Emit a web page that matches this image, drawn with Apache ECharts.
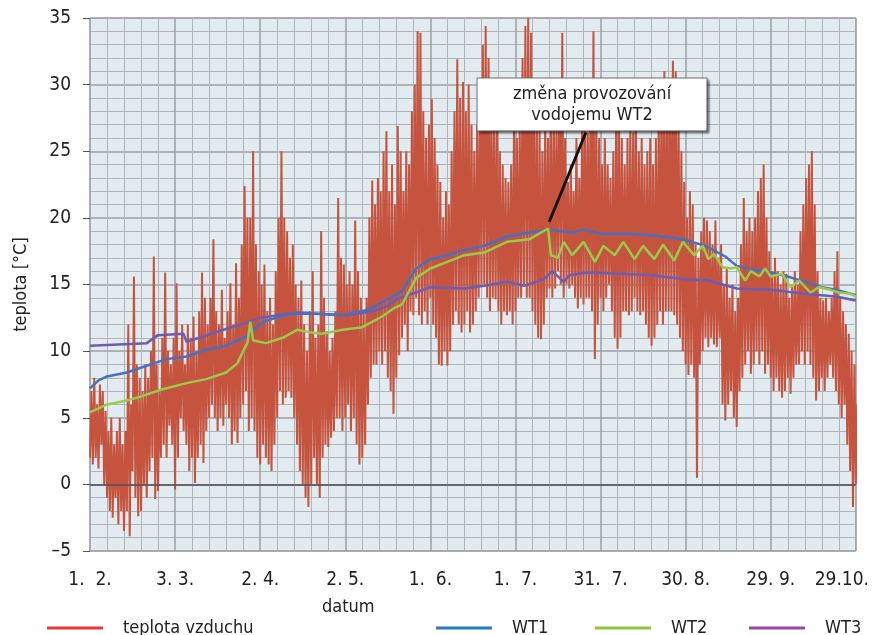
<!DOCTYPE html>
<html>
<head>
<meta charset="utf-8">
<script src="https://cdn.jsdelivr.net/npm/echarts@6/dist/echarts.min.js"></script>
<style>
  html, body { margin: 0; padding: 0; background: #fff; }
  #chart { width: 872px; height: 635px; }
</style>
</head>
<body>
<div id="chart"></div>
<script>
var FONT = "'Liberation Sans Narrow', 'DejaVu Sans Condensed', 'Liberation Sans', sans-serif";

// x osa: dny od 1. 2.
var xLabels = ['1.  2.', '3. 3.', '2. 4.', '2. 5.', '1.  6.', '1.  7.', '31.  7.', '30. 8.', '29. 9.', '29.10.'];

// teplota vzduchu - denni maxima a minima (den 0 .. 270)
var airMax = [
  7, 8, 6, 7.5, 7, 5.5, 4, 5, 3, 4,
  5, 3, 4, 12, 6, 15.6, 9, 8, 7, 9,
  8, 10, 17.1, 9, 7, 11, 15.9, 10, 9, 11,
  15.1, 10, 12, 9, 12, 11, 12.6, 10, 13, 15.9,
  14, 12, 14, 18.4, 13, 12, 14.6, 11, 13, 15.1,
  12, 16.6, 14, 18, 22.4, 20, 20, 25, 18, 16,
  15, 16.5, 13, 14, 12, 16, 20, 25, 20, 19,
  17, 18, 15, 14, 15.3, 12, 10, 13, 16, 11,
  12, 19, 14, 11.5, 10, 11, 13, 21.5, 17, 16.5,
  15, 16, 15, 19.8, 16, 14, 13, 14, 20, 22.8,
  21, 23, 22, 25, 26.5, 22, 24, 21, 26.9, 25,
  22, 25, 24, 28, 30, 34, 33.9, 28, 26, 27,
  28.9, 26, 24, 22.7, 20, 22, 21, 25, 28, 31.9,
  29, 30.2, 28, 30, 27, 25, 27, 30, 33, 34.4,
  32, 29, 28, 27.7, 25, 24, 23, 22.7, 24, 27.7,
  26, 27, 32, 34.4, 35, 33.9, 30, 28, 27, 25,
  28, 26, 27, 29, 27, 30, 33.9, 26, 22.7, 24,
  22, 26, 23, 27, 29, 26.4, 30, 34, 28, 26,
  24, 26, 24, 23, 25, 27.7, 28, 26, 24, 26,
  27, 26.4, 27, 25, 26, 24, 25, 26, 24, 26,
  28, 30, 31, 29, 30, 31.8, 31, 28, 25, 22.7,
  20, 22, 21, 18, 17, 19, 20, 19.8, 19, 18,
  19.8, 17, 18, 15, 16.3, 14, 15, 13, 14, 18,
  21.5, 19, 20, 19, 20, 22, 23, 24, 20, 17.5,
  16, 17, 16, 15, 16, 15.8, 14, 15, 16, 15,
  19, 21, 23, 24, 25, 21, 16, 14, 13.8, 14,
  13, 14, 16, 17.5, 14, 13, 12, 11.3, 10, 9, 6
];
var airMin = [
  2, 1.5, 2, 1.2, 3, 0, -1, -2, -2.5, -1,
  -3, -2, -3.5, -2, -3.9, 1, -1, -2.4, -2, 0,
  -1, 1, 2, -1.1, -0.5, 2, 3, 2, 4.4, 3,
  -0.4, 2, 5, 4, 3, 1, 2, 0.1, 2, 3,
  1.6, 4, 5, 6, 5, 4, 5, 4.4, 6, 5,
  3, 4, 3.1, 5, 6, 7, 4, 5, 4, 2,
  1.5, 3, 2, 1.5, 1, 3, 5, 7, 6, 6.5,
  7, 6.5, 5, 3, 1, 0, -1, -1.7, 0, 2,
  0, -1, 2, 3, 2.8, 3.5, 4, 5, 5, 4,
  5, 6, 4, 5, 3, 1.5, 2, 3, 6, 8,
  9, 9, 10, 9, 10, 8, 7, 5.3, 8, 9.7,
  11, 12, 10, 13, 12.7, 14, 12.7, 12, 13, 12,
  14, 12, 11, 9, 8.9, 10, 8.9, 10, 12, 13,
  12, 11.4, 12, 13, 11.4, 12, 13, 14, 15, 15,
  14, 13, 14, 13.9, 13, 12, 13, 12.7, 13, 12,
  13, 14, 14, 15, 14, 14, 13, 12, 11, 10.9,
  12, 14, 14.7, 14, 14.7, 16, 15, 14, 15, 14.7,
  15, 14, 13.2, 14, 13.5, 14, 14, 13, 9.4, 12,
  14, 13, 14, 15, 13, 11, 10.2, 11, 13, 13,
  12.7, 13, 14, 13, 12.7, 13, 12, 11, 10.4, 11,
  12, 13, 12, 13, 13, 13, 12.7, 12, 11, 10,
  9, 8.2, 9, 8, 0.5, 9, 10, 11, 10.3, 11,
  10.5, 10.3, 11, 6, 4.8, 6, 7, 5, 4.3, 7,
  8, 9, 10, 8.3, 9, 10, 9, 10, 8.3, 9,
  8, 7, 8, 7, 6.5, 7, 8, 6.8, 8, 9,
  9, 10, 9, 10, 9, 8, 6.3, 7, 8, 7,
  8, 9, 8, 7, 6, 5, 6, 3, 1, -1.7, 0
];

// vodojemy
var wt1Days = [0, 3, 6, 13, 20, 27, 34, 41, 48, 55, 61, 67, 73, 80, 89, 98, 106, 110, 115, 120, 126, 132, 139, 147, 155, 162, 170, 174, 180, 190, 198, 209, 217, 224, 228, 234, 240, 246, 252, 258, 263, 270];
var wt1 = [7.2, 7.8, 8.1, 8.4, 8.9, 9.4, 9.6, 10.1, 10.4, 11.1, 12.2, 12.6, 12.9, 12.8, 12.7, 13.1, 14, 14.5, 16.2, 16.9, 17.2, 17.6, 17.9, 18.6, 18.9, 19.1, 18.9, 19.1, 18.8, 18.8, 18.7, 18.4, 17.9, 17.1, 16.4, 16.1, 15.9, 15.6, 15.2, 14.8, 14.6, 14.2];

var wt2Days = [0, 6, 13, 18, 25, 34, 41, 48, 52, 54, 55.5, 56.5, 57.5, 62, 68, 73, 78, 82, 89, 96, 103, 107, 110, 115, 120, 126, 132, 139, 147, 155, 161.5, 162.5, 165, 167, 170, 174, 178, 181, 185, 188, 192, 195, 199, 202, 206, 209, 213, 216, 218, 220, 223, 226, 228, 231, 233, 236, 238, 240, 244, 247, 250, 254, 257, 261, 264, 268, 270];
var wt2 = [5.4, 6.0, 6.3, 6.6, 7.1, 7.6, 7.9, 8.4, 9.1, 10.0, 10.6, 12.2, 10.8, 10.6, 11.0, 11.6, 11.4, 11.3, 11.6, 11.8, 12.6, 13.2, 13.5, 15.5, 16.2, 16.7, 17.2, 17.4, 18.2, 18.4, 19.2, 17.2, 17.0, 18.2, 17.2, 18.2, 16.7, 17.9, 17.2, 18.2, 16.9, 17.9, 16.9, 18.0, 16.8, 18.2, 17.2, 17.9, 16.9, 17.3, 16.3, 16.2, 16.3, 15.3, 16.0, 15.6, 16.2, 15.6, 15.8, 14.8, 15.3, 14.4, 14.8, 14.6, 14.4, 14.3, 14.1];

var wt3Days = [0, 20, 24, 33, 34, 40, 47, 55, 60, 70, 80, 90, 100, 105, 108, 115, 120, 132, 139, 147, 153, 160, 163, 167, 169, 175, 187, 198, 210, 218, 228, 240, 252, 263, 270];
var wt3 = [10.4, 10.6, 11.2, 11.3, 10.7, 11.1, 11.6, 12.1, 12.5, 12.8, 12.8, 12.7, 13.0, 13.4, 13.9, 14.4, 14.8, 14.7, 14.9, 15.2, 14.9, 15.4, 16.0, 15.2, 15.7, 15.9, 15.8, 15.7, 15.4, 15.3, 14.7, 14.6, 14.3, 14.1, 13.8];

// poznamka: zmena provozovani WT2
var noteText = 'změna provozování\nvodojemu WT2';
var notePos = [177, 28.5];
var arrowFrom = [174.8, 26.4];
var arrowTo = [161.9, 19.7];

function pairs(xs, ys) {
  var out = [];
  for (var i = 0; i < xs.length; i++) out.push([xs[i], ys[i]]);
  return out;
}

var airData = [];
for (var d = 0; d < airMax.length; d++) {
  airData.push([d, airMin[d]]);
  airData.push([d + 0.5, airMax[d]]);
}

var chart = echarts.init(document.getElementById('chart'));

var option = {
  animation: false,
  backgroundColor: '#fff',
  textStyle: { fontFamily: FONT },
  grid: {
    left: 90, right: 10, top: 18, bottom: 84,
    show: true,
    backgroundColor: '#e2ecf0',
    borderColor: '#a4a8ab',
    borderWidth: 1
  },
  xAxis: {
    type: 'value',
    min: 0, max: 270, interval: 30,
    axisLine: { show: false },
    axisTick: { show: false },
    axisLabel: {
      margin: 20,
      fontSize: 19,
      color: '#222',
      fontFamily: FONT,
      showMaxLabel: true,
      formatter: function (v) {
        var i = Math.round(v / 30);
        if (i === xLabels.length - 1) return '{last|' + xLabels[i] + '}';
        return xLabels[i];
      },
      rich: {
        last: { fontSize: 19, color: '#222', fontFamily: FONT, padding: [0, 28, 0, 0] }
      }
    },
    splitLine: { show: true, lineStyle: { color: '#9ca0a4', width: 1.5 } },
    minorTick: { show: false, splitNumber: 5 },
    minorSplitLine: { show: true, lineStyle: { color: '#b0b5b9', width: 1 } }
  },
  yAxis: {
    type: 'value',
    min: -5, max: 35, interval: 5,
    name: 'teplota [°C]',
    nameLocation: 'middle',
    nameGap: 60,
    nameTextStyle: { fontSize: 18, color: '#222', fontFamily: FONT },
    axisLine: { show: false },
    axisTick: { show: true, length: 7, lineStyle: { color: '#555', width: 1 } },
    axisLabel: {
      margin: 19,
      fontSize: 19,
      color: '#222',
      fontFamily: FONT,
      formatter: function (v) { return String(v).replace('-', '\u2013'); }
    },
    splitLine: { show: true, lineStyle: { color: '#9ca0a4', width: 1.5 } },
    minorTick: { show: false, splitNumber: 5 },
    minorSplitLine: { show: true, lineStyle: { color: '#b0b5b9', width: 1 } }
  },
  legend: [
    { data: [{ name: 'teplota vzduchu', itemStyle: { color: '#e4393a' } }], left: 47 },
    { data: [{ name: 'WT1', itemStyle: { color: '#2a7bc0' } }], left: 436 },
    { data: [{ name: 'WT2', itemStyle: { color: '#8dc63f' } }], left: 595 },
    { data: [{ name: 'WT3', itemStyle: { color: '#9a48a4' } }], left: 749 }
  ].map(function (l) {
    l.top = 619;
    l.padding = 0;
    l.icon = 'rect';
    l.itemWidth = 56;
    l.itemHeight = 3;
    l.selectedMode = false;
    l.textStyle = { fontSize: 18, color: '#222', fontFamily: FONT, padding: [0, 0, 0, 15] };
    return l;
  }),
  graphic: [{
    type: 'text',
    left: 322,
    top: 598,
    style: { text: 'datum', fontSize: 18, fill: '#222', fontFamily: FONT }
  }],
  series: [
    {
      name: 'teplota vzduchu',
      type: 'line',
      data: airData,
      showSymbol: false,
      symbol: 'none',
      lineStyle: { color: '#c5533e', width: 2 },
      itemStyle: { color: '#c5533e' },
      z: 2,
      markLine: {
        silent: true,
        symbol: 'none',
        label: { show: false },
        lineStyle: { color: '#4e5153', width: 1.6, type: 'solid' },
        data: [{ yAxis: 0 }]
      }
    },
    {
      name: 'WT3',
      type: 'line',
      data: pairs(wt3Days, wt3),
      showSymbol: false,
      symbol: 'none',
      lineStyle: { color: '#6a5db4', width: 2.5 },
      itemStyle: { color: '#6a5db4' },
      z: 3
    },
    {
      name: 'WT1',
      type: 'line',
      data: pairs(wt1Days, wt1),
      showSymbol: false,
      symbol: 'none',
      lineStyle: { color: '#4870c2', width: 2.5 },
      itemStyle: { color: '#4870c2' },
      z: 4
    },
    {
      name: 'WT2',
      type: 'line',
      data: pairs(wt2Days, wt2),
      showSymbol: false,
      symbol: 'none',
      lineStyle: { color: '#9acb48', width: 2.5 },
      itemStyle: { color: '#9acb48' },
      z: 5,
      markLine: {
        silent: true,
        symbol: ['none', 'arrow'],
        symbolSize: [0, 14],
        label: { show: false },
        lineStyle: { color: '#111', width: 2.8, type: 'solid' },
        data: [[{ coord: arrowFrom }, { coord: arrowTo }]]
      },
      markPoint: {
        silent: true,
        symbol: 'rect',
        symbolSize: 1,
        itemStyle: { color: 'rgba(0,0,0,0)' },
        label: {
          show: true,
          position: 'inside',
          formatter: noteText,
          fontSize: 18,
          lineHeight: 21,
          color: '#222',
          fontFamily: FONT,
          align: 'center',
          backgroundColor: '#fff',
          borderColor: '#6e6e6e',
          borderWidth: 1,
          width: 229,
          padding: [5, 0, 5, 0],
          shadowColor: 'rgba(0,0,0,0.35)',
          shadowOffsetX: 2,
          shadowOffsetY: 2,
          shadowBlur: 2
        },
        data: [{ coord: notePos }]
      }
    }
  ]
};

chart.setOption(option);
</script>
</body>
</html>
